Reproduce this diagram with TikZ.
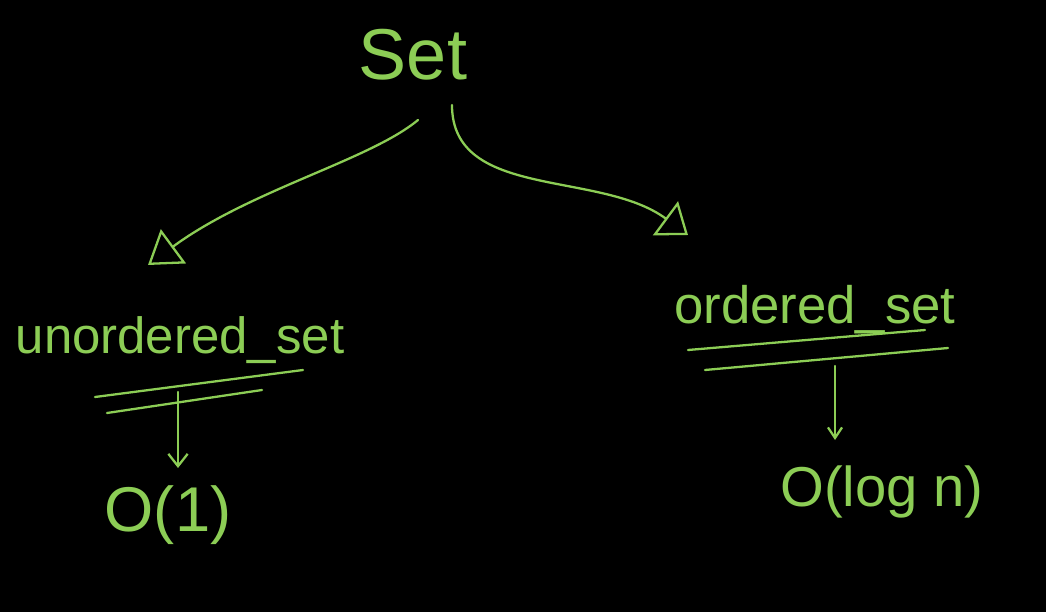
\documentclass[tikz,border=0pt]{standalone}
\usepackage{fontspec}
\setmainfont{Liberation Sans}
\usepackage{tikz}
\usetikzlibrary{arrows}
\usetikzlibrary{arrows.meta}
\definecolor{chalk}{RGB}{140,205,85}

\begin{document}
\begin{tikzpicture}[x=0.02cm, y=-0.02cm]
    \useasboundingbox (0,0) rectangle (1046,612);
    \fill[black] (0,0) rectangle (1046,612);
    \tikzset{chalkline/.style={draw=chalk, line width=1.3pt, line cap=round},
             chalktext/.style={text=chalk, inner sep=0pt}}
    \node[chalktext, font=\fontsize{41}{46}\selectfont] (set) at (413,55) {Set};
    \node[chalktext, font=\fontsize{29}{34}\selectfont] (unord) at (180,340) {unordered\_set};
    \node[chalktext, font=\fontsize{30}{34}\selectfont] (ord) at (815,310) {ordered\_set};
    \node[chalktext, font=\fontsize{36}{40}\selectfont] (o1) at (168,515) {O(1)};
    \node[chalktext, font=\fontsize{32}{36}\selectfont] (ologn) at (882,492) {O(log n)};
    % curved arrows from Set
    \coordinate (lstart) at (418,120);
    \coordinate (ltip) at (148,265);
    \coordinate (rstart) at (452,105);
    \coordinate (rtip) at (688,235);
    \draw[chalkline, -{Triangle[open, length=18pt, width=24pt]}] (lstart) .. controls (370,160) and (250,190) .. (ltip);
    \draw[chalkline, -{Triangle[open, length=16pt, width=24pt]}] (rstart) .. controls (452,200) and (600,170) .. (rtip);
    % underlines
    \draw[chalkline] (95,397) -- (303,370);
    \draw[chalkline] (107,413) -- (262,390);
    \draw[chalkline] (688,350) -- (925,330);
    \draw[chalkline] (705,370) -- (948,348);
    % down arrows
    \coordinate (lfrom) at (178,392);
    \coordinate (lto) at (178,468);
    \coordinate (rfrom) at (835,366);
    \coordinate (rto) at (835,440);
    \draw[chalkline, -{Straight Barb[length=7pt, width=11pt]}] (lfrom) -- (lto);
    \draw[chalkline, -{Straight Barb[length=6pt, width=8pt]}] (rfrom) -- (rto);
\end{tikzpicture}
\end{document}
